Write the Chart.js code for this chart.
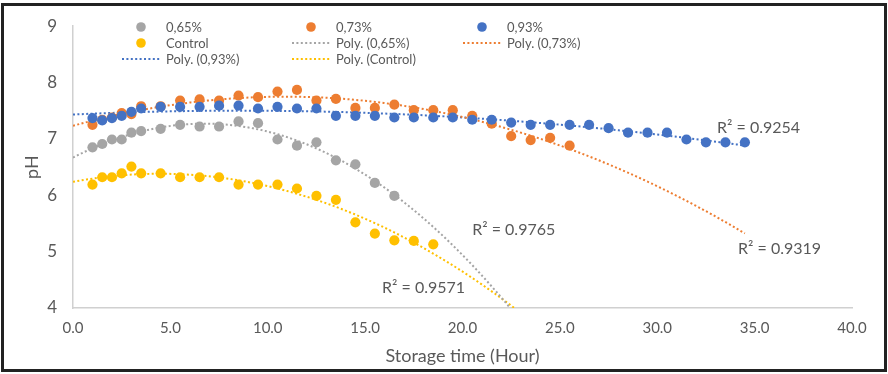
<!DOCTYPE html>
<html>
<head>
<meta charset="utf-8">
<script src="https://cdn.jsdelivr.net/npm/chart.js@4"></script>
<style>
  body { margin: 0; background: #fff; }
  .box { width: 888px; height: 374px; position: relative; }
</style>
</head>
<body>
<div class="box"><canvas id="myChart"></canvas></div>
<script>
// dati (tempo in ore, pH)
const time065 = [1, 1.5, 2, 2.5, 3, 3.5, 4.5, 5.5, 6.5, 7.5, 8.5, 9.5, 10.5, 11.5, 12.5, 13.5, 14.5, 15.5, 16.5];
const ph065 = [6.85, 6.91, 6.99, 6.99, 7.11, 7.14, 7.18, 7.25, 7.22, 7.22, 7.31, 7.28, 6.99, 6.88, 6.94, 6.62, 6.55, 6.22, 5.99];

const time073 = [1, 1.5, 2, 2.5, 3, 3.5, 4.5, 5.5, 6.5, 7.5, 8.5, 9.5, 10.5, 11.5, 12.5, 13.5, 14.5, 15.5, 16.5, 17.5, 18.5, 19.5, 20.5, 21.5, 22.5, 23.5, 24.5, 25.5];
const ph073 = [7.25, 7.34, 7.38, 7.46, 7.44, 7.58, 7.58, 7.68, 7.70, 7.68, 7.77, 7.74, 7.84, 7.87, 7.68, 7.71, 7.55, 7.55, 7.61, 7.51, 7.51, 7.51, 7.41, 7.27, 7.05, 6.98, 7.02, 6.88];

const time093 = [1, 1.5, 2, 2.5, 3, 3.5, 4.5, 5.5, 6.5, 7.5, 8.5, 9.5, 10.5, 11.5, 12.5, 13.5, 14.5, 15.5, 16.5, 17.5, 18.5, 19.5, 20.5, 21.5, 22.5, 23.5, 24.5, 25.5, 26.5, 27.5, 28.5, 29.5, 30.5, 31.5, 32.5, 33.5, 34.5];
const ph093 = [7.37, 7.33, 7.37, 7.41, 7.48, 7.54, 7.57, 7.57, 7.57, 7.59, 7.59, 7.54, 7.57, 7.54, 7.54, 7.41, 7.41, 7.41, 7.38, 7.38, 7.38, 7.38, 7.34, 7.34, 7.29, 7.25, 7.25, 7.25, 7.25, 7.19, 7.11, 7.11, 7.11, 6.99, 6.94, 6.94, 6.94];

const timeControl = [1, 1.5, 2, 2.5, 3, 3.5, 4.5, 5.5, 6.5, 7.5, 8.5, 9.5, 10.5, 11.5, 12.5, 13.5, 14.5, 15.5, 16.5, 17.5, 18.5];
const phControl = [6.19, 6.32, 6.32, 6.39, 6.51, 6.39, 6.39, 6.32, 6.32, 6.32, 6.19, 6.19, 6.19, 6.12, 5.99, 5.92, 5.52, 5.32, 5.20, 5.19, 5.13];

const seriesNames = ["0,65%", "0,73%", "0,93%", "Control"];
const seriesColors = ["#a5a5a5", "#ed7d31", "#4472c4", "#ffc000"];
const trendEnd = [25.5, 34.5, 34.5, 27.5]; // fino a dove arriva la linea di tendenza
const r2Text = ["R² = 0.9765", "R² = 0.9319", "R² = 0.9254", "R² = 0.9571"];
const r2X = [20.5, 34.15, 33.07, 15.87];
const r2Y = [5.38, 5.05, 7.19, 4.36];

const xTicks = [0, 5, 10, 15, 20, 25, 30, 35, 40];
const yTicks = [4, 5, 6, 7, 8, 9];

const allTimes = [time065, time073, time093, timeControl];
const allPh = [ph065, ph073, ph093, phControl];

// regressione polinomiale di 2 grado (come la linea "Poly." di Excel)
function polyFit(xs, ys) {
  let s = [0, 0, 0, 0, 0], t = [0, 0, 0];
  for (let i = 0; i < xs.length; i++) {
    let p = 1;
    for (let k = 0; k < 5; k++) { s[k] += p; if (k < 3) t[k] += p * ys[i]; p *= xs[i]; }
  }
  const m = [[s[0], s[1], s[2], t[0]], [s[1], s[2], s[3], t[1]], [s[2], s[3], s[4], t[2]]];
  for (let c = 0; c < 3; c++) {
    for (let r = c + 1; r < 3; r++) {
      const f = m[r][c] / m[c][c];
      for (let k = c; k < 4; k++) m[r][k] -= f * m[c][k];
    }
  }
  const b = [0, 0, 0];
  for (let r = 2; r >= 0; r--) {
    let v = m[r][3];
    for (let k = r + 1; k < 3; k++) v -= m[r][k] * b[k];
    b[r] = v / m[r][r];
  }
  return b;
}

function trendPoints(idx) {
  const b = polyFit(allTimes[idx], allPh[idx]);
  const pts = [];
  const steps = 80;
  for (let i = 0; i <= steps; i++) {
    const x = trendEnd[idx] * i / steps;
    pts.push({ x: x, y: b[0] + b[1] * x + b[2] * x * x });
  }
  return pts;
}

const datasets = [];
const pointOrder = [4, 3, 2, 1];
for (let i = 0; i < 4; i++) {
  datasets.push({
    label: seriesNames[i],
    data: allTimes[i].map((t, j) => ({ x: t, y: allPh[i][j] })),
    backgroundColor: seriesColors[i],
    borderColor: seriesColors[i],
    pointRadius: 5.1,
    pointBorderWidth: 0,
    showLine: false,
    order: pointOrder[i]
  });
}
for (let i = 0; i < 4; i++) {
  datasets.push({
    label: "Poly. (" + seriesNames[i] + ")",
    data: trendPoints(i),
    borderColor: seriesColors[i],
    borderWidth: 2,
    borderDash: [2, 2.4],
    pointRadius: 0,
    showLine: true,
    fill: false,
    order: 10 + i
  });
}

const font = "Lato, 'Open Sans', sans-serif";
const textGray = "#595959";

// legenda in stile Excel, 3 colonne
const legendPlugin = {
  id: "excelLegend",
  afterDraw(chart) {
    const ctx = chart.ctx;
    const colX = [141, 311, 482];
    const rowY = [27, 43, 59];
    const items = [];
    for (let i = 0; i < 4; i++) items.push({ text: seriesNames[i], color: seriesColors[i], dot: true });
    for (let i = 0; i < 4; i++) items.push({ text: "Poly. (" + seriesNames[i] + ")", color: seriesColors[i], dot: false });
    ctx.save();
    ctx.font = "13px " + font;
    ctx.textBaseline = "middle";
    ctx.textAlign = "left";
    items.forEach((it, n) => {
      const cx = colX[n % 3], cy = rowY[Math.floor(n / 3)];
      if (it.dot) {
        ctx.fillStyle = it.color;
        ctx.beginPath();
        ctx.arc(cx, cy, 4.8, 0, Math.PI * 2);
        ctx.fill();
      } else {
        ctx.strokeStyle = it.color;
        ctx.lineWidth = 2;
        ctx.setLineDash([2, 2.4]);
        ctx.beginPath();
        ctx.moveTo(cx - 19, cy);
        ctx.lineTo(cx + 19, cy);
        ctx.stroke();
        ctx.setLineDash([]);
      }
      ctx.fillStyle = textGray;
      ctx.fillText(it.text, cx + 25, cy + 1);
    });
    ctx.restore();
  }
};

// etichette R² e bordo esterno
const r2Plugin = {
  id: "r2Labels",
  afterDraw(chart) {
    const ctx = chart.ctx;
    const xs = chart.scales.x, ys = chart.scales.y;
    ctx.save();
    ctx.font = "16px " + font;
    ctx.fillStyle = textGray;
    ctx.textBaseline = "middle";
    ctx.textAlign = "left";
    for (let i = 0; i < r2Text.length; i++) {
      ctx.fillText(r2Text[i], xs.getPixelForValue(r2X[i]), ys.getPixelForValue(r2Y[i]));
    }
    ctx.strokeStyle = "#222";
    ctx.lineWidth = 3;
    ctx.strokeRect(2.5, 4.5, 883, 366);
    ctx.restore();
  }
};

new Chart(document.getElementById("myChart"), {
  type: "scatter",
  data: { datasets: datasets },
  plugins: [legendPlugin, r2Plugin],
  options: {
    responsive: true,
    maintainAspectRatio: false,
    animation: false,
    layout: { padding: { top: 18, right: 36, left: 0, bottom: 0 } },
    plugins: {
      legend: { display: false },
      tooltip: { enabled: false }
    },
    scales: {
      x: {
        type: "linear",
        min: 0,
        max: 40,
        afterBuildTicks: (s) => { s.ticks = xTicks.map(v => ({ value: v })); },
        afterFit: (s) => { s.height = 66; },
        grid: { display: false, drawTicks: false },
        border: { display: true, color: "#d0d0d0", width: 1.5 },
        ticks: {
          padding: 11,
          color: textGray,
          font: { family: font, size: 15 },
          callback: (v) => Number(v).toFixed(1)
        },
        title: {
          display: true,
          text: "Storage time (Hour)",
          color: textGray,
          font: { family: font, size: 18 },
          padding: { top: 0, bottom: 7 }
        }
      },
      y: {
        min: 4,
        max: 9,
        afterBuildTicks: (s) => { s.ticks = yTicks.map(v => ({ value: v })); },
        afterFit: (s) => { s.width = 73; },
        grid: { display: false, drawTicks: false },
        border: { display: true, color: "#d0d0d0", width: 1.5 },
        ticks: {
          padding: 16,
          color: textGray,
          font: { family: font, size: 17 }
        },
        title: {
          display: true,
          text: "pH",
          color: textGray,
          font: { family: font, size: 18 },
          padding: { top: 21, bottom: 0 }
        }
      }
    }
  }
});
</script>
</body>
</html>
